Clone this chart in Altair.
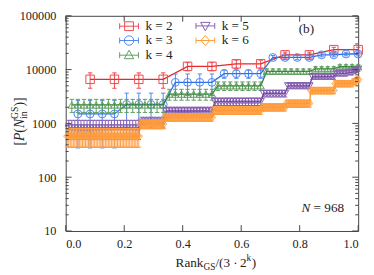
import altair as alt
import pandas as pd

# ---------------- data ----------------
K2_Y = [6600, 6600, 6600, 6600, 11500, 11500, 12800, 12800, 18800, 18800, 23500, 23500]
K2_E = [2100, 2100, 2100, 2100, 2000, 2000, 2200, 2200, 2300, 2300, 2500, 2500]

K3_Y = [1500, 1500, 1500, 1500, 2250, 2250, 2250, 2250,
        5800, 5800, 5800, 5800, 8400, 8400, 8400, 8400,
        16800, 16800, 16800, 16800, 18800, 18800, 19500, 19500]
K3_E = [1150, 1150, 1150, 1150, 1400, 1400, 1400, 1400,
        2500, 2500, 2500, 2500, 1500, 1500, 1500, 1500,
        1500, 1500, 1500, 1500, 1500, 1500, 1500, 1500]

# (count, value, error) blocks for the dense series
K4_BLOCKS = [(16, 2200, 600), (8, 3500, 800), (8, 5000, 900), (8, 9300, 1000),
             (4, 10300, 1000), (4, 11300, 1000)]
K5_BLOCKS = [(24, 820, 320), (8, 1050, 250), (16, 1700, 300), (16, 2550, 400),
             (8, 3600, 500), (8, 5000, 600), (8, 7400, 800),
             (4, 8500, 900), (2, 8900, 900), (1, 9500, 900), (1, 10200, 900)]
K6_BLOCKS = [(48, 580, 220), (16, 980, 180), (32, 1300, 200), (32, 1750, 280),
             (16, 2000, 300), (16, 2350, 350), (16, 4100, 550),
             (12, 5500, 700), (2, 6000, 700), (2, 6500, 700)]

X_MAJOR = [0.0, 0.2, 0.4, 0.6, 0.8, 1.0]
Y_MAJOR = [10, 100, 1000, 10000, 100000]
Y_MINOR = [20, 30, 40, 50, 60, 70, 80, 90,
           200, 300, 400, 500, 600, 700, 800, 900,
           2000, 3000, 4000, 5000, 6000, 7000, 8000, 9000,
           20000, 30000, 40000, 50000, 60000, 70000, 80000, 90000]

K_LABELS = ["2", "3", "4", "5", "6"]
LINE_COLORS = ["#e8262b", "#2b6fe6", "#2f7d32", "#6a3d9a", "#ff8a1a"]
MARK_COLORS = ["#f0484d", "#4f86ee", "#5e9e5e", "#8560b0", "#ff9d3d"]
SHAPES = ["square", "circle", "triangle-up", "triangle-down", "diamond"]
SIZES = [75, 65, 55, 55, 55]

_L = "M-1.6,0H1.6M-1.6,-0.5V0.5M1.6,-0.5V0.5"
LEGEND_PATHS = [
    _L + "M-0.75,-0.75H0.75V0.75H-0.75Z",
    _L + "M-0.8,0A0.8,0.8 0 1,0 0.8,0A0.8,0.8 0 1,0 -0.8,0Z",
    _L + "M0,-0.85L0.8,0.6H-0.8Z",
    _L + "M0,0.85L0.8,-0.6H-0.8Z",
    _L + "M0,-0.85L0.75,0L0,0.85L-0.75,0Z",
]

FONT = "Liberation Serif"
TXT = "#222222"
FRAME = "#444444"
W, H = 299, 220


def expand(blocks):
    vals, errs = [], []
    for n, v, e in blocks:
        vals += [v] * n
        errs += [e] * n
    return vals, errs


K4_Y, K4_E = expand(K4_BLOCKS)
K5_Y, K5_E = expand(K5_BLOCKS)
K6_Y, K6_E = expand(K6_BLOCKS)
SERIES = [(K2_Y, K2_E), (K3_Y, K3_E), (K4_Y, K4_E), (K5_Y, K5_E), (K6_Y, K6_E)]

xs = alt.Scale(domain=[0, 1], nice=False, zero=False)
ys = alt.Scale(type="log", domain=[10, 100000], nice=False)
AX_X = alt.Axis(values=X_MAJOR, format=".1f", ticks=False, domain=False, grid=False,
                labelPadding=7, labelFont=FONT, labelFontSize=12.5, labelColor=TXT, title=None)
AX_Y = alt.Axis(values=Y_MAJOR, format="d", ticks=False, domain=False, grid=False,
                labelPadding=10, labelFont=FONT, labelFontSize=12.5, labelColor=TXT, title=None)


def X(f):
    return alt.X(f, type="quantitative", scale=xs, axis=AX_X)


def Y(f):
    return alt.Y(f, type="quantitative", scale=ys, axis=AX_Y)


layers = []
for idx, (vals, errs) in enumerate(SERIES):
    n = len(vals)
    df = pd.DataFrame({
        "x": [(i + 1) / n for i in range(n)],
        "y": vals,
        "lo": [max(v - e, 11) for v, e in zip(vals, errs)],
        "hi": [v + e for v, e in zip(vals, errs)],
    })
    mc, lc = MARK_COLORS[idx], LINE_COLORS[idx]
    base = alt.Chart(df)
    layers.append(base.mark_rule(color=mc, strokeWidth=1).encode(x=X("x"), y=Y("lo"), y2="hi"))
    for f in ("lo", "hi"):
        layers.append(base.mark_point(shape="M-1,0H1", size=20, color=mc, filled=False,
                                      strokeWidth=1, opacity=1).encode(x=X("x"), y=Y(f)))
    layers.append(base.mark_line(color=lc, strokeWidth=1.3).encode(x=X("x"), y=Y("y")))
    layers.append(base.mark_point(shape=SHAPES[idx], size=SIZES[idx], color=mc, filled=False,
                                  strokeWidth=1, opacity=1).encode(x=X("x"), y=Y("y")))

# legend (built by the library from explicit scale domains; fills column by column)
leg_df = pd.DataFrame({"k": K_LABELS, "x": [0.5] * 5, "y": [1000] * 5})
LEG = alt.Legend(orient="none", legendX=58, legendY=3.5, columns=2, columnPadding=21,
                 rowPadding=0, symbolSize=144, symbolStrokeWidth=1, labelFont=FONT,
                 labelFontSize=13.5, labelOffset=10, labelColor=TXT, title=None,
                 labelExpr="'k = ' + datum.label", padding=0)
layers.append(
    alt.Chart(leg_df).transform_filter("datum.x < 0").mark_point(filled=False, opacity=1, strokeWidth=1)
    .encode(x=X("x"), y=Y("y"),
            color=alt.Color("k:N", scale=alt.Scale(domain=K_LABELS, range=MARK_COLORS), legend=LEG),
            shape=alt.Shape("k:N", scale=alt.Scale(domain=K_LABELS, range=LEGEND_PATHS), legend=LEG))
)

# inward ticks on all four sides
ym = pd.DataFrame({"v": Y_MAJOR})
yn = pd.DataFrame({"v": Y_MINOR})
xm = pd.DataFrame({"v": X_MAJOR})
for d, ln in ((ym, 6), (yn, 3)):
    layers.append(alt.Chart(d).mark_rule(color=FRAME, strokeWidth=1).encode(
        y=Y("v"), x=alt.value(0), x2=alt.value(ln)))
    layers.append(alt.Chart(d).mark_rule(color=FRAME, strokeWidth=1).encode(
        y=Y("v"), x=alt.value(W), x2=alt.value(W - ln)))
layers.append(alt.Chart(xm).mark_rule(color=FRAME, strokeWidth=1).encode(
    x=X("v"), y=alt.value(H), y2=alt.value(H - 6)))
layers.append(alt.Chart(xm).mark_rule(color=FRAME, strokeWidth=1).encode(
    x=X("v"), y=alt.value(0), y2=alt.value(6)))

# ---------------- text ----------------
CW = {"R": .667, "a": .444, "n": .5, "k": .5, "G": .722, "S": .556, "/": .278, "(": .333,
      ")": .333, "3": .5, "2": .5, "·": .25, "[": .333, "]": .333, "i": .278, " ": .25,
      "=": .564, "9": .5, "6": .5, "8": .5, "b": .5, "N": .667, "P": .611}


def tw(s, size):
    return sum(CW.get(c, .5) for c in s) * size


ONE = alt.Data(values=[{"a": 1}])


def txt(s, x, y, size, style="normal", align="left", angle=0):
    return alt.Chart(ONE).mark_text(text=s, font=FONT, fontSize=size, fontStyle=style, color=TXT,
                                    align=align, baseline="middle", angle=angle).encode(
        x=alt.value(x), y=alt.value(y))


layers.append(txt("(b)", 246, 14, 13.5, align="center"))
nx = 241
layers.append(txt("N", nx, 197, 13.5, style="italic"))
layers.append(txt("= 968", nx + tw("N ", 13.5), 197, 13.5))

# x title: Rank_GS/(3·2^k)
M, Sm = 13.5, 9.5
pieces = [("Rank", M, 0), ("GS", Sm, 4), ("/(3", M, 0), ("·", M, 0), ("2", M, 0), ("k", Sm, -5), (")", M, 0)]
gaps = [0, 0, 0, .25 * M, .25 * M, 0, 0.5]
total = sum(tw(p[0], p[1]) for p in pieces) + sum(gaps)
cx = W / 2 - total / 2 + 4
for (s, sz, dy), g in zip(pieces, gaps):
    cx += g
    layers.append(txt(s, cx, 253 + dy, sz))
    cx += tw(s, sz)

# y title: [P(N_in^GS)]
M2, S2 = 14, 10
ty = [("[", M2, "normal"), ("P", M2, "italic"), ("(", M2, "normal"), ("N", M2, "italic")]
blk = max(tw("in", S2), tw("GS", S2))
total = sum(tw(s, z) for s, z, _ in ty) + blk + tw(")]", M2)
cy = 108 + total / 2
xb = -47
for s, z, st in ty:
    layers.append(txt(s, xb, cy, z, style=st, angle=270))
    cy -= tw(s, z)
layers.append(txt("in", xb + 4, cy, S2, angle=270))
layers.append(txt("GS", xb - 5, cy, S2, angle=270))
cy -= blk
layers.append(txt(")]", xb, cy, M2, angle=270))

chart = alt.layer(*layers).properties(
    width=W, height=H,
    autosize=alt.AutoSizeParams(type="none"),
    padding={"left": 59, "top": 5, "right": 8, "bottom": 42},
).configure_view(stroke=FRAME, strokeWidth=1)

chart.save("out.html", embed_options={"renderer": "svg", "actions": False})
